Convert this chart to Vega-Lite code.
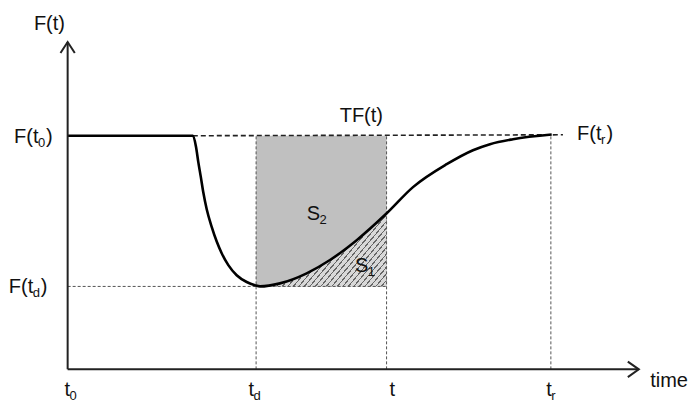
{
  "$schema": "https://vega.github.io/schema/vega-lite/v6.json",
  "width": 691,
  "height": 403,
  "autosize": {"type": "none"},
  "padding": 0,
  "background": "white",
  "config": {"view": {"stroke": null}, "text": {"font": "Liberation Sans", "color": "#111"}},
  "datasets": {
    "curve": [
      {"x": 0, "y": 1.0}, {"x": 2.594, "y": 1.0}, {"x": 2.656, "y": 0.953}, {"x": 2.704, "y": 0.887},
      {"x": 2.753, "y": 0.827}, {"x": 2.807, "y": 0.758}, {"x": 2.878, "y": 0.685}, {"x": 2.981, "y": 0.61},
      {"x": 3.085, "y": 0.547}, {"x": 3.188, "y": 0.497}, {"x": 3.325, "y": 0.446}, {"x": 3.498, "y": 0.403},
      {"x": 3.705, "y": 0.374}, {"x": 3.877, "y": 0.36}, {"x": 3.981, "y": 0.355}, {"x": 4.394, "y": 0.368},
      {"x": 4.947, "y": 0.411}, {"x": 5.429, "y": 0.468}, {"x": 5.982, "y": 0.553}, {"x": 6.603, "y": 0.668},
      {"x": 7.147, "y": 0.78}, {"x": 7.844, "y": 0.878}, {"x": 8.388, "y": 0.938}, {"x": 8.74, "y": 0.964},
      {"x": 9.216, "y": 0.985}, {"x": 10.017, "y": 1.005}
    ],
    "s1": [
      {"x": 3.9, "y": 0.359}, {"x": 3.981, "y": 0.355}, {"x": 4.394, "y": 0.368}, {"x": 4.947, "y": 0.411},
      {"x": 5.429, "y": 0.468}, {"x": 5.982, "y": 0.553}, {"x": 6.6, "y": 0.667}
    ],
    "box": [{"x": 3.9, "xe": 6.6, "y": 0.355, "ye": 1.0}],
    "guides": [
      {"x": 0, "xe": 6.6, "y": 0.355, "ye": 0.355},
      {"x": 3.9, "xe": 3.9, "y": 0, "ye": 1.0},
      {"x": 6.6, "xe": 6.6, "y": 0, "ye": 1.0},
      {"x": 10.0, "xe": 10.0, "y": 0, "ye": 1.0}
    ],
    "tf": [{"x": 2.59, "xe": 10.25, "y": 1.0, "ye": 1.004}],
    "axes": [
      {"x": 0, "xe": 11.82, "y": 0, "ye": 0},
      {"x": 0, "xe": 0, "y": 0, "ye": 1.401}
    ],
    "arrows": [
      {"x": 11.82, "y": 0, "dir": "right"},
      {"x": 0, "y": 1.401, "dir": "up"}
    ],
    "labels": [
      {"x": -0.055, "y": 1.4525, "main": "F(t)", "sub": "", "post": "", "postn": ""},
      {"x": -0.603, "y": 0.97, "main": "F(t", "sub": "0", "post": ")", "postn": ""},
      {"x": -0.711, "y": 0.3253, "main": "F(t", "sub": "d", "post": ")", "postn": ""},
      {"x": 11.048, "y": 0.9816, "main": "F(t", "sub": "r", "post": "", "postn": ")"},
      {"x": 6.526, "y": 1.0587, "main": "TF(t)", "sub": "", "post": "", "postn": ""},
      {"x": 5.222, "y": 0.639, "main": "S", "sub": "2", "post": "", "postn": ""},
      {"x": 6.222, "y": 0.418, "main": "S", "sub": "1", "post": "", "postn": ""},
      {"x": 0.049, "y": -0.1143, "main": "t", "sub": "0", "post": "", "postn": ""},
      {"x": 3.856, "y": -0.1143, "main": "t", "sub": "d", "post": "", "postn": ""},
      {"x": 6.774, "y": -0.1143, "main": "t", "sub": "", "post": "", "postn": ""},
      {"x": 10.017, "y": -0.1143, "main": "t", "sub": "r", "post": "", "postn": ""},
      {"x": 12.838, "y": -0.0745, "main": "time", "sub": "", "post": "", "postn": ""}
    ]
  },
  "encoding": {
    "x": {"field": "x", "type": "quantitative", "scale": {"domain": [-1.4, 12.9], "nice": false, "zero": false}, "axis": null},
    "y": {"field": "y", "type": "quantitative", "scale": {"domain": [-0.144, 1.581], "nice": false, "zero": false}, "axis": null}
  },
  "layer": [
    {
      "data": {"name": "box"},
      "mark": {"type": "rect", "fill": "#c0c0c0"},
      "encoding": {"x2": {"field": "xe"}, "y2": {"field": "ye"}}
    },
    {
      "data": {"name": "s1"},
      "mark": {
        "type": "area",
        "interpolate": "monotone",
        "fill": {
          "gradient": "linear", "x1": 0, "y1": 0, "x2": 1.21, "y2": 0.567,
          "stops": [
            {"offset": 0, "color": "#d8d8d8"}, {"offset": 0.02143, "color": "#d8d8d8"}, {"offset": 0.02143, "color": "#666"}, {"offset": 0.02857, "color": "#666"},
            {"offset": 0.02857, "color": "#d8d8d8"}, {"offset": 0.05, "color": "#d8d8d8"}, {"offset": 0.05, "color": "#666"}, {"offset": 0.05714, "color": "#666"},
            {"offset": 0.05714, "color": "#d8d8d8"}, {"offset": 0.07857, "color": "#d8d8d8"}, {"offset": 0.07857, "color": "#666"}, {"offset": 0.08571, "color": "#666"},
            {"offset": 0.08571, "color": "#d8d8d8"}, {"offset": 0.10714, "color": "#d8d8d8"}, {"offset": 0.10714, "color": "#666"}, {"offset": 0.11429, "color": "#666"},
            {"offset": 0.11429, "color": "#d8d8d8"}, {"offset": 0.13571, "color": "#d8d8d8"}, {"offset": 0.13571, "color": "#666"}, {"offset": 0.14286, "color": "#666"},
            {"offset": 0.14286, "color": "#d8d8d8"}, {"offset": 0.16429, "color": "#d8d8d8"}, {"offset": 0.16429, "color": "#666"}, {"offset": 0.17143, "color": "#666"},
            {"offset": 0.17143, "color": "#d8d8d8"}, {"offset": 0.19286, "color": "#d8d8d8"}, {"offset": 0.19286, "color": "#666"}, {"offset": 0.2, "color": "#666"},
            {"offset": 0.2, "color": "#d8d8d8"}, {"offset": 0.22143, "color": "#d8d8d8"}, {"offset": 0.22143, "color": "#666"}, {"offset": 0.22857, "color": "#666"},
            {"offset": 0.22857, "color": "#d8d8d8"}, {"offset": 0.25, "color": "#d8d8d8"}, {"offset": 0.25, "color": "#666"}, {"offset": 0.25714, "color": "#666"},
            {"offset": 0.25714, "color": "#d8d8d8"}, {"offset": 0.27857, "color": "#d8d8d8"}, {"offset": 0.27857, "color": "#666"}, {"offset": 0.28571, "color": "#666"},
            {"offset": 0.28571, "color": "#d8d8d8"}, {"offset": 0.30714, "color": "#d8d8d8"}, {"offset": 0.30714, "color": "#666"}, {"offset": 0.31429, "color": "#666"},
            {"offset": 0.31429, "color": "#d8d8d8"}, {"offset": 0.33571, "color": "#d8d8d8"}, {"offset": 0.33571, "color": "#666"}, {"offset": 0.34286, "color": "#666"},
            {"offset": 0.34286, "color": "#d8d8d8"}, {"offset": 0.36429, "color": "#d8d8d8"}, {"offset": 0.36429, "color": "#666"}, {"offset": 0.37143, "color": "#666"},
            {"offset": 0.37143, "color": "#d8d8d8"}, {"offset": 0.39286, "color": "#d8d8d8"}, {"offset": 0.39286, "color": "#666"}, {"offset": 0.4, "color": "#666"},
            {"offset": 0.4, "color": "#d8d8d8"}, {"offset": 0.42143, "color": "#d8d8d8"}, {"offset": 0.42143, "color": "#666"}, {"offset": 0.42857, "color": "#666"},
            {"offset": 0.42857, "color": "#d8d8d8"}, {"offset": 0.45, "color": "#d8d8d8"}, {"offset": 0.45, "color": "#666"}, {"offset": 0.45714, "color": "#666"},
            {"offset": 0.45714, "color": "#d8d8d8"}, {"offset": 0.47857, "color": "#d8d8d8"}, {"offset": 0.47857, "color": "#666"}, {"offset": 0.48571, "color": "#666"},
            {"offset": 0.48571, "color": "#d8d8d8"}, {"offset": 0.50714, "color": "#d8d8d8"}, {"offset": 0.50714, "color": "#666"}, {"offset": 0.51429, "color": "#666"},
            {"offset": 0.51429, "color": "#d8d8d8"}, {"offset": 0.53571, "color": "#d8d8d8"}, {"offset": 0.53571, "color": "#666"}, {"offset": 0.54286, "color": "#666"},
            {"offset": 0.54286, "color": "#d8d8d8"}, {"offset": 0.56429, "color": "#d8d8d8"}, {"offset": 0.56429, "color": "#666"}, {"offset": 0.57143, "color": "#666"},
            {"offset": 0.57143, "color": "#d8d8d8"}, {"offset": 0.59286, "color": "#d8d8d8"}, {"offset": 0.59286, "color": "#666"}, {"offset": 0.6, "color": "#666"},
            {"offset": 0.6, "color": "#d8d8d8"}, {"offset": 0.62143, "color": "#d8d8d8"}, {"offset": 0.62143, "color": "#666"}, {"offset": 0.62857, "color": "#666"},
            {"offset": 0.62857, "color": "#d8d8d8"}, {"offset": 0.65, "color": "#d8d8d8"}, {"offset": 0.65, "color": "#666"}, {"offset": 0.65714, "color": "#666"},
            {"offset": 0.65714, "color": "#d8d8d8"}, {"offset": 0.67857, "color": "#d8d8d8"}, {"offset": 0.67857, "color": "#666"}, {"offset": 0.68571, "color": "#666"},
            {"offset": 0.68571, "color": "#d8d8d8"}, {"offset": 0.70714, "color": "#d8d8d8"}, {"offset": 0.70714, "color": "#666"}, {"offset": 0.71429, "color": "#666"},
            {"offset": 0.71429, "color": "#d8d8d8"}, {"offset": 0.73571, "color": "#d8d8d8"}, {"offset": 0.73571, "color": "#666"}, {"offset": 0.74286, "color": "#666"},
            {"offset": 0.74286, "color": "#d8d8d8"}, {"offset": 0.76429, "color": "#d8d8d8"}, {"offset": 0.76429, "color": "#666"}, {"offset": 0.77143, "color": "#666"},
            {"offset": 0.77143, "color": "#d8d8d8"}, {"offset": 0.79286, "color": "#d8d8d8"}, {"offset": 0.79286, "color": "#666"}, {"offset": 0.8, "color": "#666"},
            {"offset": 0.8, "color": "#d8d8d8"}, {"offset": 0.82143, "color": "#d8d8d8"}, {"offset": 0.82143, "color": "#666"}, {"offset": 0.82857, "color": "#666"},
            {"offset": 0.82857, "color": "#d8d8d8"}, {"offset": 0.85, "color": "#d8d8d8"}, {"offset": 0.85, "color": "#666"}, {"offset": 0.85714, "color": "#666"},
            {"offset": 0.85714, "color": "#d8d8d8"}, {"offset": 0.87857, "color": "#d8d8d8"}, {"offset": 0.87857, "color": "#666"}, {"offset": 0.88571, "color": "#666"},
            {"offset": 0.88571, "color": "#d8d8d8"}, {"offset": 0.90714, "color": "#d8d8d8"}, {"offset": 0.90714, "color": "#666"}, {"offset": 0.91429, "color": "#666"},
            {"offset": 0.91429, "color": "#d8d8d8"}, {"offset": 0.93571, "color": "#d8d8d8"}, {"offset": 0.93571, "color": "#666"}, {"offset": 0.94286, "color": "#666"},
            {"offset": 0.94286, "color": "#d8d8d8"}, {"offset": 0.96429, "color": "#d8d8d8"}, {"offset": 0.96429, "color": "#666"}, {"offset": 0.97143, "color": "#666"},
            {"offset": 0.97143, "color": "#d8d8d8"}, {"offset": 0.99286, "color": "#d8d8d8"}, {"offset": 0.99286, "color": "#666"}, {"offset": 1, "color": "#666"}
          ]
        }
      },
      "encoding": {"y2": {"datum": 0.355}}
    },
    {
      "data": {"name": "guides"},
      "mark": {"type": "rule", "stroke": "#555", "strokeWidth": 1, "strokeDash": [3, 2]},
      "encoding": {"x2": {"field": "xe"}, "y2": {"field": "ye"}}
    },
    {
      "data": {"name": "tf"},
      "mark": {"type": "rule", "stroke": "#222", "strokeWidth": 1.6, "strokeDash": [5, 3]},
      "encoding": {"x2": {"field": "xe"}, "y2": {"field": "ye"}}
    },
    {
      "data": {"name": "curve"},
      "mark": {"type": "line", "interpolate": "monotone", "stroke": "#000", "strokeWidth": 2.6},
      "encoding": {}
    },
    {
      "data": {"name": "axes"},
      "mark": {"type": "rule", "stroke": "#222", "strokeWidth": 2},
      "encoding": {"x2": {"field": "xe"}, "y2": {"field": "ye"}}
    },
    {
      "data": {"name": "arrows"},
      "mark": {"type": "point", "filled": false, "stroke": "#222", "strokeWidth": 2, "size": 484, "opacity": 1, "strokeJoin": "miter"},
      "encoding": {
        "shape": {"field": "dir", "type": "nominal", "scale": {"domain": ["right", "up"], "range": ["M-1,-0.7L0,0L-1,0.7", "M-0.65,1L0,0L0.65,1"]}, "legend": null}
      }
    },
    {
      "data": {"name": "labels"},
      "mark": {"type": "text", "align": "right", "baseline": "alphabetic", "fontSize": 20},
      "encoding": {"text": {"field": "main"}}
    },
    {
      "data": {"name": "labels"},
      "mark": {"type": "text", "align": "left", "baseline": "alphabetic", "fontSize": 13, "dx": -0.5, "dy": 4},
      "encoding": {"text": {"field": "sub"}}
    },
    {
      "data": {"name": "labels"},
      "mark": {"type": "text", "align": "left", "baseline": "alphabetic", "fontSize": 20, "dx": 7.5},
      "encoding": {"text": {"field": "post"}}
    },
    {
      "data": {"name": "labels"},
      "mark": {"type": "text", "align": "left", "baseline": "alphabetic", "fontSize": 20, "dx": 5},
      "encoding": {"text": {"field": "postn"}}
    }
  ]
}
